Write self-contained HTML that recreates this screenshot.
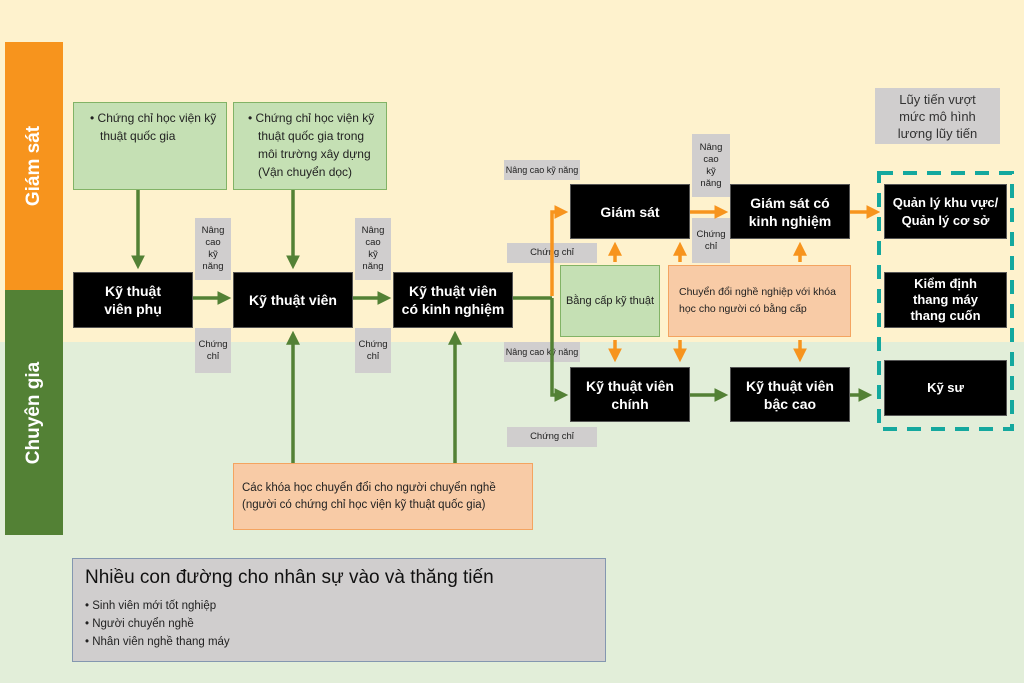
<!DOCTYPE html>
<html><head><meta charset="utf-8"><style>
body{margin:0;width:1024px;height:683px;position:relative;overflow:hidden;font-family:"Liberation Sans","DejaVu Sans",sans-serif;background:#E2EED9}
.a{position:absolute;box-sizing:border-box}
.blk{background:#000;color:#fff;font-weight:bold;font-size:14px;display:flex;align-items:center;justify-content:center;text-align:center;line-height:18px;border:1px solid #555}
.g{background:#C5E0B4;border:1px solid #82B366;font-size:12px;color:#222;line-height:18px}
.o{background:#F8CBA6;border:1px solid #F4A460;font-size:11.5px;color:#222;line-height:17px}
.gr{background:#D0CECE;font-size:9.5px;color:#222;display:flex;align-items:center;justify-content:center;text-align:center;line-height:12px}
.nw{white-space:nowrap;font-size:9px}
.bl{padding-left:12px;text-indent:-10px}
</style></head><body>
<div class="a" style="left:0;top:0;width:1024px;height:342px;background:#FEF2CD"></div>
<div class="a" style="left:5px;top:42px;width:58px;height:248px;background:#F7941D;display:flex;align-items:center;justify-content:center"><div style="transform:rotate(-90deg);color:#fff;font-weight:bold;font-size:19px;white-space:nowrap">Giám sát</div></div>
<div class="a" style="left:5px;top:290px;width:58px;height:245px;background:#538135;display:flex;align-items:center;justify-content:center"><div style="transform:rotate(-90deg);color:#fff;font-weight:bold;font-size:19px;white-space:nowrap">Chuyên gia</div></div>

<div class="a g" style="left:73px;top:102px;width:154px;height:88px;padding:6px 4px 0 14px"><div class="bl">• Chứng chỉ học viện kỹ thuật quốc gia</div></div>
<div class="a g" style="left:233px;top:102px;width:154px;height:88px;padding:6px 2px 0 12px"><div class="bl">• Chứng chỉ học viện kỹ thuật quốc gia trong môi trường xây dựng (Vận chuyển dọc)</div></div>

<div class="a blk" style="left:73px;top:272px;width:120px;height:56px">Kỹ thuật<br>viên phụ</div>
<div class="a blk" style="left:233px;top:272px;width:120px;height:56px">Kỹ thuật viên</div>
<div class="a blk" style="left:393px;top:272px;width:120px;height:56px">Kỹ thuật viên<br>có kinh nghiệm</div>
<div class="a gr" style="left:195px;top:218px;width:36px;height:62px">Nâng<br>cao<br>kỹ<br>năng</div>
<div class="a gr" style="left:195px;top:328px;width:36px;height:45px">Chứng<br>chỉ</div>
<div class="a gr" style="left:355px;top:218px;width:36px;height:62px">Nâng<br>cao<br>kỹ<br>năng</div>
<div class="a gr" style="left:355px;top:328px;width:36px;height:45px">Chứng<br>chỉ</div>

<div class="a blk" style="left:570px;top:184px;width:120px;height:55px">Giám sát</div>
<div class="a blk" style="left:730px;top:184px;width:120px;height:55px">Giám sát có<br>kinh nghiệm</div>
<div class="a blk" style="left:570px;top:367px;width:120px;height:55px">Kỹ thuật viên<br>chính</div>
<div class="a blk" style="left:730px;top:367px;width:120px;height:55px">Kỹ thuật viên<br>bậc cao</div>
<div class="a g" style="left:560px;top:265px;width:100px;height:72px;display:flex;align-items:center;justify-content:center;font-size:11px">Bằng cấp kỹ thuật</div>
<div class="a o" style="left:668px;top:265px;width:183px;height:72px;padding:0 6px 0 10px;display:flex;align-items:center;font-size:10.5px">Chuyển đổi nghề nghiệp với khóa học cho người có bằng cấp</div>
<div class="a gr nw" style="left:504px;top:160px;width:76px;height:20px">Nâng cao kỹ năng</div>
<div class="a gr" style="left:507px;top:243px;width:90px;height:20px">Chứng chỉ</div>
<div class="a gr nw" style="left:504px;top:342px;width:76px;height:20px">Nâng cao kỹ năng</div>
<div class="a gr" style="left:507px;top:427px;width:90px;height:20px">Chứng chỉ</div>
<div class="a gr" style="left:692px;top:134px;width:38px;height:63px">Nâng<br>cao<br>kỹ<br>năng</div>
<div class="a gr" style="left:692px;top:218px;width:38px;height:45px">Chứng<br>chỉ</div>

<div class="a gr" style="left:875px;top:88px;width:125px;height:56px;font-size:13px;line-height:17px;color:#333">Lũy tiến vượt<br>mức mô hình<br>lương lũy tiến</div>
<div class="a blk" style="left:884px;top:184px;width:123px;height:55px;font-size:13px">Quản lý khu vực/<br>Quản lý cơ sở</div>
<div class="a blk" style="left:884px;top:272px;width:123px;height:56px;font-size:13px;line-height:16px">Kiểm định<br>thang máy<br>thang cuốn</div>
<div class="a blk" style="left:884px;top:360px;width:123px;height:56px;font-size:13px">Kỹ sư</div>

<div class="a o" style="left:233px;top:463px;width:300px;height:67px;padding:0 8px;display:flex;align-items:center">Các khóa học chuyển đổi cho người chuyển nghề (người có chứng chỉ học viện kỹ thuật quốc gia)</div>

<div class="a" style="left:72px;top:558px;width:534px;height:104px;background:#D0CECE;border:1px solid #8497B0;padding:8px 0 0 12px">
<div style="font-size:19px;color:#111;margin-bottom:8px">Nhiều con đường cho nhân sự vào và thăng tiến</div>
<div style="font-size:11.5px;line-height:18px;color:#222">• Sinh viên mới tốt nghiệp<br>• Người chuyển nghề<br>• Nhân viên nghề thang máy</div></div>

<svg class="a" style="left:0;top:0" width="1024" height="683">
<defs>
<marker id="mg" markerWidth="4" markerHeight="4" refX="2.5" refY="2" orient="auto" markerUnits="strokeWidth"><path d="M0,0L4,2L0,4z" fill="#538135"/></marker>
<marker id="mo" markerWidth="4" markerHeight="4" refX="2.5" refY="2" orient="auto" markerUnits="strokeWidth"><path d="M0,0L4,2L0,4z" fill="#F7941D"/></marker>
</defs>
<g stroke="#538135" stroke-width="3.5" fill="none" marker-end="url(#mg)">
<path d="M138,190V264"/><path d="M293,190V264"/>
<path d="M193,298H226"/><path d="M353,298H386"/>
<path d="M293,463V336"/><path d="M455,463V336"/>
<path d="M552,298V395H563"/>
<path d="M690,395H723"/><path d="M850,395H867"/>
</g>
<path d="M513,298H552" stroke="#538135" stroke-width="3.5"/>
<g stroke="#F7941D" stroke-width="3.5" fill="none" marker-end="url(#mo)">
<path d="M552,296V212H563"/>
<path d="M690,212H723"/><path d="M850,212H875"/>
<path d="M615,262V247"/><path d="M680,262V247"/><path d="M800,262V247"/>
<path d="M615,340V357"/><path d="M680,340V357"/><path d="M800,340V357"/>
</g>
<rect x="879" y="173" width="133" height="256" fill="none" stroke="#14A89E" stroke-width="4" stroke-dasharray="14,10"/>
</svg>
</body></html>
